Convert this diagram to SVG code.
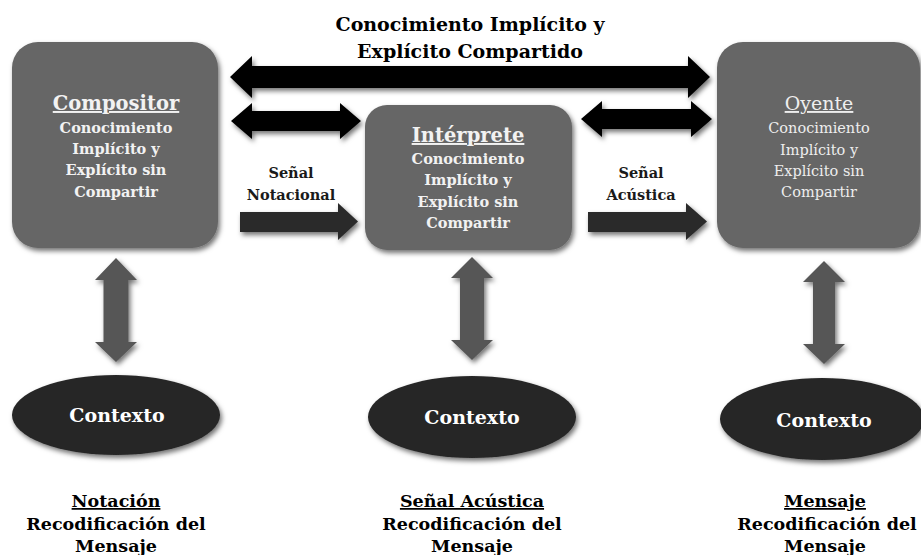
<svg xmlns="http://www.w3.org/2000/svg" width="921" height="555" viewBox="0 0 921 555">
<defs>
  <filter id="sh" x="-20%" y="-20%" width="140%" height="140%">
    <feDropShadow dx="2" dy="3" stdDeviation="2.5" flood-color="#000" flood-opacity="0.55"/>
  </filter>
  <style>
    .box{fill:#666666;filter:url(#sh);}
    .ell{fill:#262626;filter:url(#sh);}
    .big{fill:#000;filter:url(#sh);}
    .sig{fill:#2b2b2b;filter:url(#sh);}
    .vert{fill:#565656;filter:url(#sh);}
    text{font-family:"DejaVu Serif","Liberation Serif",serif;text-anchor:middle;}
    .t{font-weight:bold;font-size:19px;fill:#000;}
    .hd{font-weight:bold;font-size:19.5px;fill:#f2f2f2;text-decoration:underline;}
    .bd{font-weight:bold;font-size:14.5px;fill:#f2f2f2;}
    .hdr{font-size:19px;fill:#eeeeee;text-decoration:underline;}
    .rg{font-size:14.5px;fill:#eeeeee;}
    .lab{font-weight:bold;font-size:14.5px;fill:#1a1a1a;}
    .ctx{font-weight:bold;font-size:19px;fill:#ffffff;}
    .bt{font-weight:bold;font-size:17.5px;fill:#000;}
    .btu{font-weight:bold;font-size:17.5px;fill:#000;text-decoration:underline;}
  </style>
</defs>
<rect width="921" height="555" fill="#ffffff"/>

<g id="title">
  <text class="t" x="470" y="31">Conocimiento Implícito y</text>
  <text class="t" x="470" y="58">Explícito Compartido</text>
</g>

<g id="connectors">
  <polygon class="big" points="230,77 252,56 252,66 688,66 688,56 710,77 688,98 688,88 252,88 252,98"/>
  <polygon class="big" points="231,121 252,103 252,111 340,111 340,103 361,121 340,139 340,131 252,131 252,139"/>
  <polygon class="big" points="581,119 602,101 602,109 691,109 691,101 712,119 691,137 691,129 602,129 602,137"/>
  <polygon class="sig" points="240,212 338,212 338,203 358,221.5 338,240 338,232 240,232"/>
  <polygon class="sig" points="588,212 686,212 686,203 707,221.5 686,240 686,232 588,232"/>
  <polygon class="vert" points="116,258 137,280 128.5,280 128.5,342 137,342 116,362 95,342 103.5,342 103.5,280 95,280"/>
  <polygon class="vert" points="472,257 493,278 484,278 484,340 493,340 472,360 451,340 460,340 460,278 451,278"/>
  <polygon class="vert" points="824,261 845,282 835,282 835,344 845,344 824,364 803,344 813,344 813,282 803,282"/>
  <text class="lab" x="291" y="178">Señal</text>
  <text class="lab" x="291" y="200">Notacional</text>
  <text class="lab" x="641" y="178">Señal</text>
  <text class="lab" x="641" y="200">Acústica</text>
</g>

<g id="compositor">
  <rect class="box" x="12" y="42" width="206" height="206" rx="26"/>
  <text class="hd" x="116" y="110">Compositor</text>
  <text class="bd" x="116" y="133">Conocimiento</text>
  <text class="bd" x="116" y="154">Implícito y</text>
  <text class="bd" x="116" y="175">Explícito sin</text>
  <text class="bd" x="116" y="197">Compartir</text>
</g>

<g id="interprete">
  <rect class="box" x="365" y="105" width="207" height="145" rx="22"/>
  <text class="hd" x="468" y="142">Intérprete</text>
  <text class="bd" x="468" y="164">Conocimiento</text>
  <text class="bd" x="468" y="185">Implícito y</text>
  <text class="bd" x="468" y="207">Explícito sin</text>
  <text class="bd" x="468" y="228">Compartir</text>
</g>

<g id="oyente">
  <rect class="box" x="717" y="42" width="203" height="206" rx="26"/>
  <text class="hdr" x="819" y="110">Oyente</text>
  <text class="rg" x="819" y="133">Conocimiento</text>
  <text class="rg" x="819" y="155">Implícito y</text>
  <text class="rg" x="819" y="176">Explícito sin</text>
  <text class="rg" x="819" y="197">Compartir</text>
</g>

<g id="contexto1">
  <ellipse class="ell" cx="116" cy="415" rx="104" ry="40"/>
  <text class="ctx" x="117" y="422">Contexto</text>
</g>
<g id="contexto2">
  <ellipse class="ell" cx="472" cy="417" rx="104" ry="41"/>
  <text class="ctx" x="472" y="424">Contexto</text>
</g>
<g id="contexto3">
  <ellipse class="ell" cx="822" cy="419" rx="102" ry="41"/>
  <text class="ctx" x="824" y="427">Contexto</text>
</g>

<g id="nota1">
  <text class="btu" x="116" y="507">Notación</text>
  <text class="bt" x="116" y="530">Recodificación del</text>
  <text class="bt" x="116" y="552">Mensaje</text>
</g>
<g id="nota2">
  <text class="btu" x="472" y="507">Señal Acústica</text>
  <text class="bt" x="472" y="530">Recodificación del</text>
  <text class="bt" x="472" y="552">Mensaje</text>
</g>
<g id="nota3">
  <text class="btu" x="825" y="507">Mensaje</text>
  <text class="bt" x="827" y="530">Recodificación del</text>
  <text class="bt" x="825" y="552">Mensaje</text>
</g>
</svg>
